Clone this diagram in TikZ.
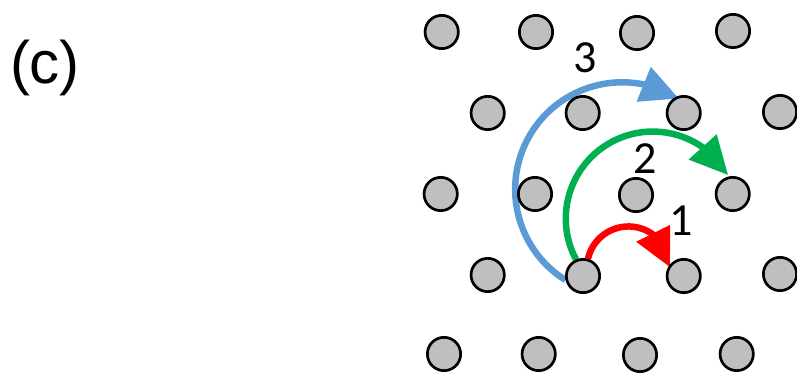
\documentclass[tikz,border=0pt]{standalone}
\usepackage{fontspec}
\newfontfamily\labfont{Liberation Sans}
\newfontfamily\numfont{Carlito}
\usetikzlibrary{arrows.meta,bending}
\definecolor{atomfill}{RGB}{191,191,191}
\definecolor{hopblue}{RGB}{91,155,213}
\definecolor{hopgreen}{RGB}{0,176,80}
\definecolor{hopred}{RGB}{255,0,0}
\pgfdeclarelayer{background}
\pgfsetlayers{background,main}
\tikzset{
  atom/.style={circle, draw=black, line width=2.7pt, fill=atomfill, minimum size=33.3pt, inner sep=0pt},
  hop/.style={line width=6.5pt, -{Triangle[length=38pt,width=36pt,flex]}},
  numlabel/.style={inner sep=0pt, font=\numfont\fontsize{46}{46}\selectfont},
}
\begin{document}
\begin{tikzpicture}[x=1pt,y=1pt]
\useasboundingbox (0,0) rectangle (797,374);
\node[inner sep=0pt, font=\labfont\fontsize{60}{60}\selectfont] (lab) at (45,306) {(c)};
% row 1
\node[atom] (c11) at (441.7,342) {};
\node[atom] (c12) at (536,342) {};
\node[atom] (c13) at (637,341) {};
\node[atom] (c14) at (733,343) {};
% row 2
\node[atom] (c21) at (487.7,261) {};
\node[atom] (c22) at (582.7,261) {};
\node[atom] (c23) at (683.7,261) {};
\node[atom] (c24) at (780,262) {};
% row 3
\node[atom] (c31) at (440.7,180) {};
\node[atom] (c32) at (535,180) {};
\node[atom] (c33) at (636,179) {};
\node[atom] (c34) at (732.7,180) {};
% row 4
\node[atom] (c41) at (487.7,99) {};
\node[atom] (c42) at (583,98) {};
\node[atom] (c43) at (683.7,98) {};
\node[atom] (c44) at (780,100) {};
% row 5
\node[atom] (c51) at (444,20) {};
\node[atom] (c52) at (538.7,20) {};
\node[atom] (c53) at (640,19) {};
\node[atom] (c54) at (736.7,20) {};
% labels
\node[numlabel] (n3) at (585,316) {3};
\node[numlabel] (n2) at (645,215.3) {2};
\node[numlabel] (n1) at (681,153.6) {1};
% hops
\begin{pgfonlayer}{background}
\draw[hop, hopblue] (c42.193) arc[start angle=238, end angle=58, radius=107];
\draw[hop, hopgreen] (c42.113) arc[start angle=208, end angle=30, radius=87];
\draw[hop, hopred] (c42.74) arc[start angle=167, end angle=1, radius=41.6];
\end{pgfonlayer}
\end{tikzpicture}
\end{document}
